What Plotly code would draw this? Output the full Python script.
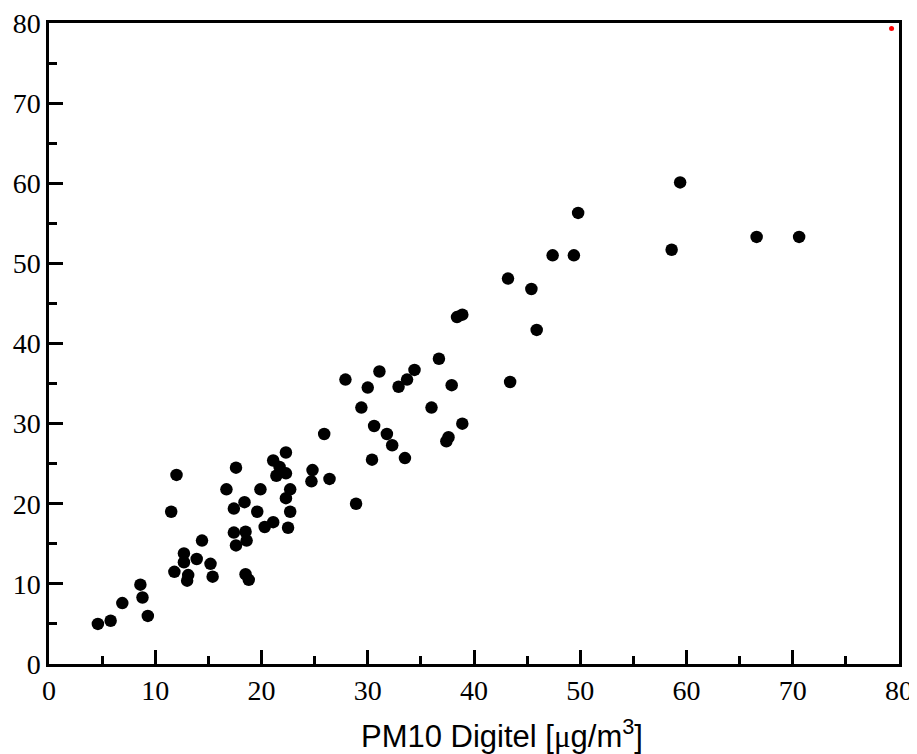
import plotly.graph_objects as go

x_digitel = [4.6, 5.8, 6.9, 8.6, 8.8, 9.3, 11.5, 12.0, 11.8, 12.7, 12.7, 13.1, 13.0, 13.9, 14.4,
             15.2, 15.4, 16.7, 17.6, 17.4, 17.4, 17.6, 18.4, 18.5, 18.6, 18.5, 18.8, 19.6, 19.9,
             20.3, 21.1, 21.1, 21.4, 21.7, 22.3, 22.3, 22.3, 22.7, 22.7, 22.5, 24.8, 24.7, 25.9,
             26.4, 27.9, 28.9, 29.4, 30.0, 30.6, 30.4, 31.1, 31.8, 32.3, 32.9, 33.7, 33.5, 34.4,
             36.0, 36.7, 37.4, 37.6, 37.9, 38.4, 38.9, 38.9, 43.2, 43.4, 45.4, 45.9, 47.4, 49.4,
             49.8, 58.6, 59.4, 66.6, 70.6]
y_other = [5.0, 5.4, 7.6, 9.9, 8.3, 6.0, 19.0, 23.6, 11.5, 13.8, 12.7, 11.1, 10.4, 13.1, 15.4,
           12.5, 10.9, 21.8, 24.5, 19.4, 16.4, 14.8, 20.2, 16.5, 15.4, 11.2, 10.5, 19.0, 21.8,
           17.1, 17.7, 25.4, 23.5, 24.6, 26.4, 23.8, 20.7, 21.8, 19.0, 17.0, 24.2, 22.8, 28.7,
           23.1, 35.5, 20.0, 32.0, 34.5, 29.7, 25.5, 36.5, 28.7, 27.3, 34.6, 35.5, 25.7, 36.7,
           32.0, 38.1, 27.8, 28.3, 34.8, 43.3, 43.6, 30.0, 48.1, 35.2, 46.8, 41.7, 51.0, 51.0,
           56.3, 51.7, 60.1, 53.3, 53.3]
ref_x = [79.3]
ref_y = [79.3]

tick_vals = [0, 10, 20, 30, 40, 50, 60, 70, 80]
tick_text = ["0", "10", "20", "30", "40", "50", "60", "70", "80"]

fig = go.Figure()
fig.add_trace(go.Scatter(x=x_digitel, y=y_other, mode="markers",
                         marker=dict(size=12.5, color="black", line=dict(width=0)),
                         showlegend=False, cliponaxis=False))
fig.add_trace(go.Scatter(x=ref_x, y=ref_y, mode="markers",
                         marker=dict(size=5, color="#ff0000", line=dict(width=0)),
                         showlegend=False, cliponaxis=False))

axis_common = dict(
    range=[0, 80], tickmode="array", tickvals=tick_vals, ticktext=tick_text,
    ticks="inside", ticklen=14, tickwidth=2.5, tickcolor="black",
    showline=True, linewidth=2.5, linecolor="black", mirror=True,
    showgrid=False, zeroline=False, automargin=False, ticklabeloverflow="allow",
    tickfont=dict(family="Liberation Serif", size=28, color="black"),
    minor=dict(ticks="inside", ticklen=8, tickwidth=2.5, tickcolor="black", dtick=5, tick0=0, showgrid=False),
)

# page body has an 8px default margin, so the figure is shrunk/shifted to compensate
fig.update_layout(
    width=909, height=746,
    margin=dict(l=41, r=18, t=15, b=90),
    paper_bgcolor="white", plot_bgcolor="white",
    xaxis=axis_common,
    yaxis=axis_common,
    annotations=[dict(
        text="PM10 Digitel [<span style='font-family:Liberation Serif'>μ</span>g/m<sup>3</sup>]",
        xref="paper", yref="paper", x=0.533, y=0, yshift=-48,
        xanchor="center", yanchor="top", showarrow=False,
        font=dict(family="Liberation Sans, Arial", size=31, color="black"),
    )],
)

fig.write_html("out.html")
